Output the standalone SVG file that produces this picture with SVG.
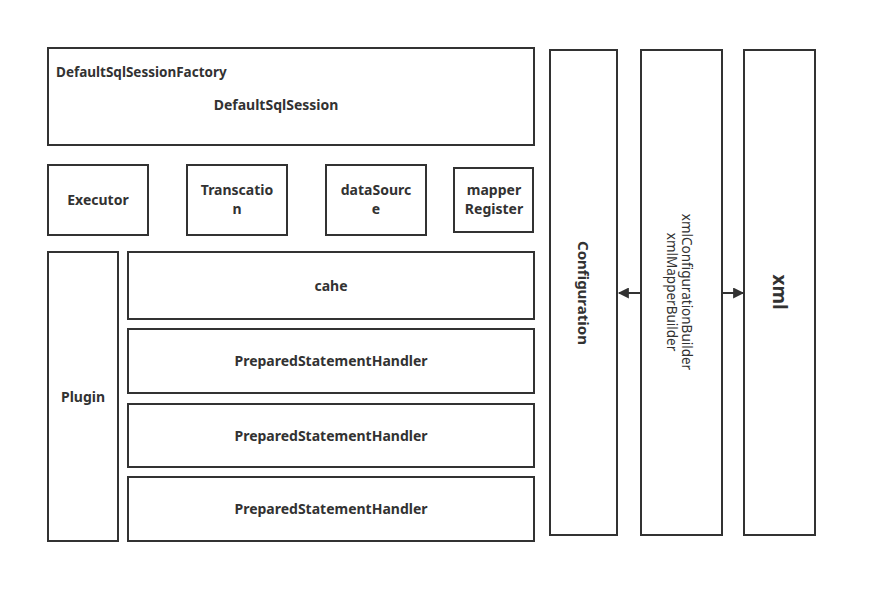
<svg xmlns="http://www.w3.org/2000/svg" width="876" height="603" viewBox="0 0 876 603">
<defs>
<style>
.box{fill:#fff;stroke:#323232;stroke-width:2}
.t{font-family:"Noto Sans","Open Sans","Liberation Sans",sans-serif;font-size:14px;font-weight:bold;fill:#323232;text-anchor:middle}
.n{font-family:"Noto Sans","Open Sans","Liberation Sans",sans-serif;font-size:13.5px;fill:#323232;text-anchor:middle}
.c{stroke:#323232;stroke-width:2;fill:none}
</style>
<marker id="ah" viewBox="0 0 10 10" refX="9" refY="5" markerWidth="12" markerHeight="11" markerUnits="userSpaceOnUse" orient="auto">
<path d="M0,0 L10,5 L0,10 Z" fill="#323232"/>
</marker>
</defs>
<rect width="876" height="603" fill="#fff"/>
<g id="factory"><rect class="box" x="48" y="48" width="486" height="97"/>
<text class="t" x="56" y="77" style="text-anchor:start;font-size:13.5px">DefaultSqlSessionFactory</text>
<text class="t" x="276" y="110">DefaultSqlSession</text></g>
<g id="executor"><rect class="box" x="48" y="165" width="100" height="70"/><text class="t" x="98" y="205">Executor</text></g>
<g id="transcation"><rect class="box" x="187" y="165" width="100" height="70"/><text class="t" x="237" y="195">Transcatio</text><text class="t" x="237" y="214">n</text></g>
<g id="datasource"><rect class="box" x="326" y="165" width="100" height="70"/><text class="t" x="376" y="195">dataSourc</text><text class="t" x="376" y="214">e</text></g>
<g id="mapper"><rect class="box" x="454" y="168" width="79" height="64"/><text class="t" x="494" y="195">mapper</text><text class="t" x="494" y="214">Register</text></g>
<g id="plugin"><rect class="box" x="48" y="252" width="70" height="289"/><text class="t" x="83" y="402">Plugin</text></g>
<g id="cahe"><rect class="box" x="128" y="252" width="406" height="67"/><text class="t" x="331" y="291">cahe</text></g>
<g id="psh1"><rect class="box" x="128" y="329" width="406" height="64"/><text class="t" x="331" y="366">PreparedStatementHandler</text></g>
<g id="psh2"><rect class="box" x="128" y="404" width="406" height="63"/><text class="t" x="331" y="441">PreparedStatementHandler</text></g>
<g id="psh3"><rect class="box" x="128" y="477" width="406" height="64"/><text class="t" x="331" y="514">PreparedStatementHandler</text></g>
<g id="configuration"><rect class="box" x="550" y="50" width="67" height="485"/><text class="t" transform="translate(578,293) rotate(90)" style="font-size:15px">Configuration</text></g>
<g id="builder"><rect class="box" x="641" y="50" width="81" height="485"/>
<text class="n" transform="translate(682,292) rotate(90)">xmlConfigurationBuilder</text>
<text class="n" transform="translate(667,292) rotate(90)">xmlMapperBuilder</text></g>
<g id="xml"><rect class="box" x="744" y="50" width="71" height="485"/><text class="t" transform="translate(773,292) rotate(90)" style="font-size:19px">xml</text></g>
<g id="connectors">
<line class="c" x1="641" y1="293" x2="619" y2="293" marker-end="url(#ah)"/>
<line class="c" x1="722" y1="293" x2="743" y2="293" marker-end="url(#ah)"/>
</g>
</svg>
